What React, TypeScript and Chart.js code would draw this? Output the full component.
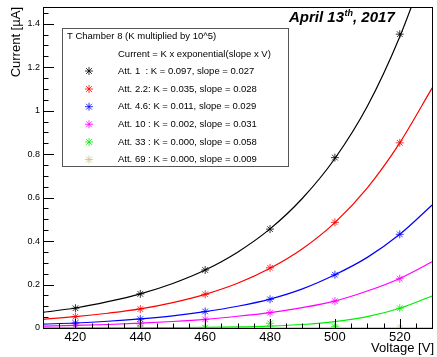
import React, { useEffect, useRef } from "react";
import { Chart, registerables } from "chart.js";
Chart.register(...registerables);

const VOLTAGES = [420, 440, 460, 480, 500, 520];
const FIT_VOLTAGES = [410, 420, 430, 440, 450, 460, 470, 480, 490, 500, 510, 520, 530];

const ATT1_POINTS = [0.091, 0.157, 0.267, 0.455, 0.784, 1.352];
const ATT22_POINTS = [0.052, 0.087, 0.155, 0.277, 0.486, 0.852];
const ATT46_POINTS = [0.023, 0.041, 0.076, 0.132, 0.245, 0.431];
const ATT10_POINTS = [0.012, 0.019, 0.04, 0.07, 0.124, 0.227];
const ATT33_POINTS = [0.0, 0.0, 0.002, 0.022, 0.006, 0.091];
const ATT69_POINTS = [0.0, 0.0, 0.0, 0.0, 0.0, 0.0];

const ATT1_FIT = [0.072, 0.092, 0.121, 0.157, 0.205, 0.267, 0.349, 0.456, 0.597, 0.78, 1.02, 1.34, 1.74];
const ATT22_FIT = [0.04, 0.052, 0.068, 0.088, 0.117, 0.155, 0.206, 0.275, 0.365, 0.485, 0.645, 0.852, 1.105];
const ATT46_FIT = [0.018, 0.023, 0.031, 0.042, 0.056, 0.075, 0.1, 0.133, 0.18, 0.245, 0.325, 0.431, 0.566];
const ATT10_FIT = [0.009, 0.012, 0.016, 0.022, 0.03, 0.04, 0.054, 0.071, 0.094, 0.124, 0.17, 0.228, 0.305];
const ATT33_FIT = [0.0003, 0.0005, 0.001, 0.001, 0.002, 0.003, 0.005, 0.009, 0.016, 0.029, 0.052, 0.091, 0.147];
const ATT69_FIT = [0.0005, 0.0005, 0.0005, 0.0005, 0.0006, 0.0006, 0.0006, 0.0007, 0.0007, 0.0007, 0.0008, 0.0008, 0.0008];

const SERIES_POINTS = [ATT1_POINTS, ATT22_POINTS, ATT46_POINTS, ATT10_POINTS, ATT33_POINTS, ATT69_POINTS];
const SERIES_FITS = [ATT1_FIT, ATT22_FIT, ATT46_FIT, ATT10_FIT, ATT33_FIT, ATT69_FIT];
const SERIES_COLORS = ["#000000", "#ff0000", "#0000ff", "#ff00ff", "#00ee00", "#cfc37a"];
const LEGEND_LABELS = [
  "Att. 1  : K = 0.097, slope = 0.027",
  "Att. 2.2: K = 0.035, slope = 0.028",
  "Att. 4.6: K = 0.011, slope = 0.029",
  "Att. 10 : K = 0.002, slope = 0.031",
  "Att. 33 : K = 0.000, slope = 0.058",
  "Att. 69 : K = 0.000, slope = 0.009",
];
const LEGEND_TITLE = "T Chamber 8 (K multiplied by 10^5)";
const LEGEND_SUBTITLE = "Current = K x exponential(slope x V)";
const X_TICKS = [420, 440, 460, 480, 500, 520];
const Y_TICKS = [0, 0.2, 0.4, 0.6, 0.8, 1, 1.2, 1.4];
const X_TITLE = "Voltage [V]";
const Y_TITLE = "Current [\u00b5A]";

const X_MIN = 410;
const X_MAX = 530;
const Y_MIN = 0;
const Y_MAX = 1.477;

const FONT = "'Liberation Sans', Arial, Helvetica, sans-serif";

function drawStar(ctx: CanvasRenderingContext2D, x: number, y: number, r: number, color: string) {
  ctx.save();
  ctx.strokeStyle = color;
  ctx.lineWidth = 0.8;
  ctx.beginPath();
  ctx.moveTo(x - r, y);
  ctx.lineTo(x + r, y);
  ctx.moveTo(x, y - r);
  ctx.lineTo(x, y + r);
  const d = r * 0.72;
  ctx.moveTo(x - d, y - d);
  ctx.lineTo(x + d, y + d);
  ctx.moveTo(x - d, y + d);
  ctx.lineTo(x + d, y - d);
  ctx.stroke();
  ctx.restore();
}

const decorPlugin = {
  id: "rootDecor",
  afterDraw(chart: any) {
    const ctx: CanvasRenderingContext2D = chart.ctx;
    const xs = chart.scales.x;
    const ys = chart.scales.y;
    const a = chart.chartArea;
    ctx.save();
    // frame
    ctx.strokeStyle = "#000";
    ctx.lineWidth = 1;
    ctx.strokeRect(Math.round(a.left) + 0.5, Math.round(a.top) + 0.5, Math.round(a.right - a.left), Math.round(a.bottom - a.top));

    // x ticks (inside)
    ctx.beginPath();
    for (let v = X_MIN; v <= X_MAX + 1e-6; v += 5) {
      const px = Math.round(xs.getPixelForValue(v)) + 0.5;
      const major = X_TICKS.includes(v);
      const len = major ? 9 : 4.5;
      ctx.moveTo(px, a.bottom);
      ctx.lineTo(px, a.bottom - len);
    }
    // y ticks (inside)
    for (let i = 0; i * 0.05 <= Y_MAX; i++) {
      const v = i * 0.05;
      const py = Math.round(ys.getPixelForValue(v)) + 0.5;
      const major = i % 4 === 0;
      const len = major ? 11 : 5.5;
      ctx.moveTo(a.left, py);
      ctx.lineTo(a.left + len, py);
    }
    ctx.stroke();

    // tick labels
    ctx.fillStyle = "#000";
    ctx.font = `13px ${FONT}`;
    ctx.textAlign = "center";
    ctx.textBaseline = "alphabetic";
    X_TICKS.forEach((v) => {
      ctx.fillText(String(v), xs.getPixelForValue(v), 341);
    });
    ctx.font = `9px ${FONT}`;
    ctx.textAlign = "right";
    ctx.textBaseline = "middle";
    Y_TICKS.forEach((v) => {
      ctx.fillText(String(v), 40, ys.getPixelForValue(v));
    });

    // axis titles
    ctx.font = `13px ${FONT}`;
    ctx.textAlign = "right";
    ctx.textBaseline = "alphabetic";
    ctx.fillText(X_TITLE, 434, 352);
    ctx.save();
    ctx.translate(20, 7);
    ctx.rotate(-Math.PI / 2);
    ctx.textAlign = "right";
    ctx.fillText(Y_TITLE, 0, 0);
    ctx.restore();

    // legend box
    ctx.fillStyle = "#fff";
    ctx.fillRect(62, 28, 227, 139);
    ctx.strokeStyle = "#555";
    ctx.lineWidth = 1;
    ctx.strokeRect(62.5, 28.5, 226, 138);
    ctx.fillStyle = "#000";
    ctx.font = `9.5px ${FONT}`;
    ctx.textAlign = "left";
    ctx.textBaseline = "middle";
    ctx.fillText(LEGEND_TITLE, 67, 36);
    ctx.fillText(LEGEND_SUBTITLE, 118, 54);
    const rowsY = [71, 89, 106.7, 124.3, 142, 159.5];
    LEGEND_LABELS.forEach((lab, i) => {
      drawStar(ctx, 89, rowsY[i], 4, SERIES_COLORS[i]);
      ctx.fillStyle = "#000";
      ctx.fillText(lab, 118, rowsY[i]);
    });

    // title
    ctx.textBaseline = "alphabetic";
    ctx.textAlign = "left";
    ctx.font = `italic bold 15px ${FONT}`;
    let tx = 289;
    ctx.fillText("April 13", tx, 22);
    tx += ctx.measureText("April 13").width;
    ctx.font = `italic bold 9px ${FONT}`;
    ctx.fillText("th", tx + 0.5, 16);
    tx += ctx.measureText("th").width + 0.5;
    ctx.font = `italic bold 15px ${FONT}`;
    ctx.fillText(", 2017", tx, 22);
    ctx.restore();
  },
};

export default function App() {
  const ref = useRef<HTMLCanvasElement | null>(null);
  useEffect(() => {
    if (!ref.current) return;
    const datasets: any[] = [];
    SERIES_FITS.forEach((fit, i) => {
      datasets.push({
        data: FIT_VOLTAGES.map((v, j) => ({ x: v, y: fit[j] })),
        borderColor: SERIES_COLORS[i],
        backgroundColor: SERIES_COLORS[i],
        borderWidth: 1.2,
        showLine: true,
        pointRadius: 0,
        cubicInterpolationMode: "monotone",
        fill: false,
      });
    });
    SERIES_POINTS.forEach((pts, i) => {
      datasets.push({
        data: VOLTAGES.map((v, j) => ({ x: v, y: pts[j] })),
        borderColor: SERIES_COLORS[i],
        backgroundColor: SERIES_COLORS[i],
        pointStyle: "star",
        pointRadius: 4,
        pointBorderWidth: 0.8,
        showLine: false,
      });
    });
    const chart = new Chart(ref.current, {
      type: "scatter",
      data: { datasets },
      options: {
        animation: false,
        responsive: false,
        devicePixelRatio: 1,
        layout: { padding: { left: 43, right: 3, top: 7, bottom: 29 } },
        plugins: { legend: { display: false }, tooltip: { enabled: false } },
        scales: {
          x: { type: "linear", min: X_MIN, max: X_MAX, display: false },
          y: { type: "linear", min: Y_MIN, max: Y_MAX, display: false },
        },
      },
      plugins: [decorPlugin],
    } as any);
    return () => chart.destroy();
  }, []);
  return (
    <div style={{ position: "fixed", left: 0, top: 0, width: 437, height: 357, background: "#fff" }}>
      <canvas ref={ref} width={437} height={357} />
    </div>
  );
}
